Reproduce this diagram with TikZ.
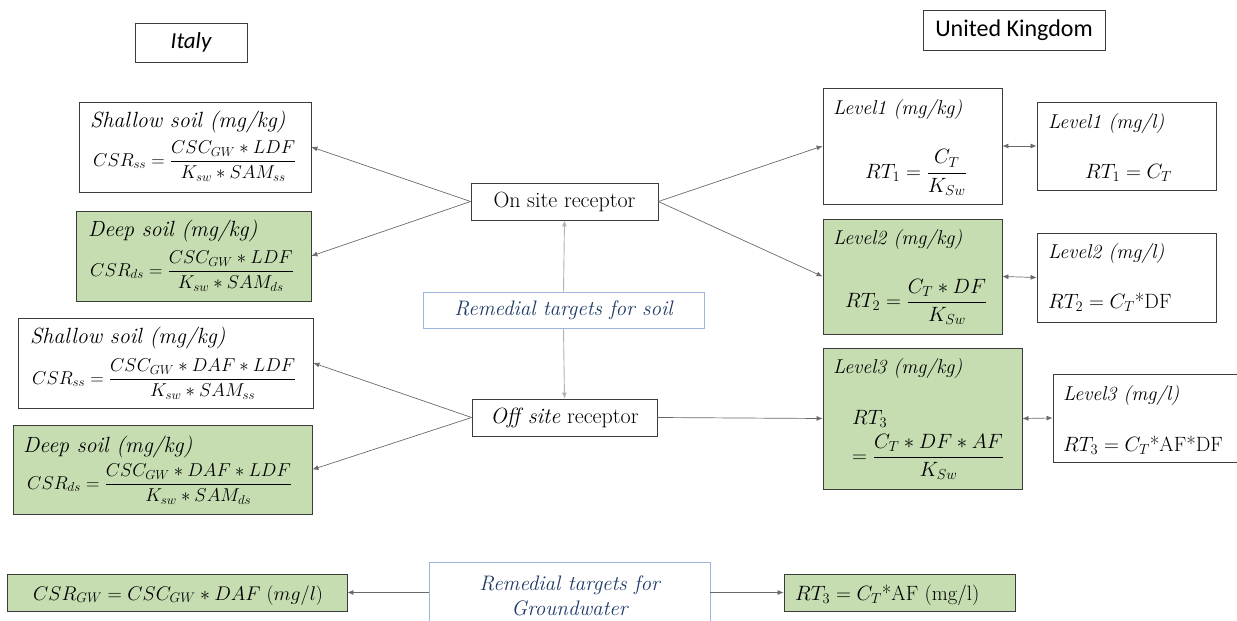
\documentclass[tikz,border=0pt]{standalone}
\usepackage{fontspec}
\newfontfamily\calibri{Carlito}
\usetikzlibrary{arrows.meta}
\DeclareFontShape{OML}{cmm}{m}{it}{<-6>cmmi5<6-7>cmmi6<7-8>cmmi7<8-9>cmmi8<9-10>cmmi9<10-12>cmmi10<12->cmmi12}{}
\DeclareFontShape{OMS}{cmsy}{m}{n}{<-6>cmsy5<6-7>cmsy6<7-8>cmsy7<8-9>cmsy8<9-10>cmsy9<10->cmsy10}{}
\DeclareFontShape{OT1}{cmr}{m}{n}{<-6>cmr5<6-7>cmr6<7-8>cmr7<8-9>cmr8<9-10>cmr9<10-12>cmr10<12-17>cmr12<17->cmr17}{}
\definecolor{boxgreen}{HTML}{C5DDB1}
\definecolor{boxline}{HTML}{3C3C3C}
\definecolor{linegray}{HTML}{6A6A6A}
\definecolor{lightblue}{HTML}{9DB7DC}
\definecolor{darkblue}{HTML}{1F3A68}
\begin{document}
\begin{tikzpicture}[x=1pt,y=-1pt,font=\fontsize{20.7}{24}\selectfont,
  box/.style={draw=boxline,line width=0.8pt,inner sep=0pt,fill=white},
  gbox/.style={box,fill=boxgreen},
  bbox/.style={draw=lightblue,line width=0.8pt,inner sep=0pt,fill=white,text=darkblue,font=\fontsize{21}{25}\selectfont\itshape},
  recbox/.style={box,font=\fontsize{22}{26}\selectfont},
  txt/.style={inner sep=0pt,anchor=base west},
  itf/.style={txt,font=\fontsize{18.6}{22}\selectfont},
  ttl/.style={txt,font=\fontsize{20}{24}\selectfont\itshape},
  ittl/.style={txt,font=\fontsize{22}{26}\selectfont\itshape},
  conn/.style={draw=linegray,line width=0.7pt,-{Latex[length=6pt,width=5pt]}},
  dbl/.style={draw=linegray,line width=0.7pt,{Latex[length=6pt,width=5pt]}-{Latex[length=6pt,width=5pt]}},
  vconn/.style={draw=gray!60,line width=0.9pt,-{Latex[length=6pt,width=5pt]}}
]
\useasboundingbox (0,0) rectangle (1237,621);

% headers
\node[box,minimum width=112pt,minimum height=39pt,font=\calibri\itshape\fontsize{23}{27}\selectfont] (italy) at (191,42.5) {Italy};
\node[box,minimum width=182pt,minimum height=40pt,font=\calibri\fontsize{24}{28}\selectfont] (uk) at (1014,30) {United Kingdom};

% Italy boxes
\node[box,minimum width=232pt,minimum height=90pt] (sh1) at (195,147) {};
\node[ittl] (sh1t) at (90,127) {Shallow soil (mg/kg)};
\node[itf] (sh1f) at (93,166) {$\displaystyle CSR_{ss}=\frac{CSC_{GW}\ast LDF}{K_{sw}\ast SAM_{ss}}$};

\node[gbox,minimum width=235pt,minimum height=90pt] (ds1) at (193.5,256) {};
\node[ittl] (ds1t) at (88,236) {Deep soil (mg/kg)};
\node[itf] (ds1f) at (90,276) {$\displaystyle CSR_{ds}=\frac{CSC_{GW}\ast LDF}{K_{sw}\ast SAM_{ds}}$};

\node[box,minimum width=295pt,minimum height=90pt] (sh2) at (165.5,363) {};
\node[ittl] (sh2t) at (30,343) {Shallow soil (mg/kg)};
\node[itf] (sh2f) at (32,384) {$\displaystyle CSR_{ss}=\frac{CSC_{GW}\ast DAF\ast LDF}{K_{sw}\ast SAM_{ss}}$};

\node[gbox,minimum width=299pt,minimum height=89pt] (ds2) at (162.5,469.5) {};
\node[ittl] (ds2t) at (23,452) {Deep soil (mg/kg)};
\node[itf] (ds2f) at (27,489) {$\displaystyle CSR_{ds}=\frac{CSC_{GW}\ast DAF\ast LDF}{K_{sw}\ast SAM_{ds}}$};

\node[gbox,minimum width=340pt,minimum height=37pt] (gw1) at (177,592.5) {};
\node[txt,font=\fontsize{19.8}{23}\selectfont] (gw1f) at (33,600) {$CSR_{GW}=CSC_{GW}\ast DAF\ (mg/l)$};

% centre
\node[recbox,minimum width=187pt,minimum height=37pt] (on) at (564.5,201.5) {On site receptor};
\node[bbox,minimum width=281pt,minimum height=36pt] (soil) at (563.5,310) {Remedial targets for soil};
\node[recbox,minimum width=185pt,minimum height=37pt] (off) at (564.5,417.5) {\textit{Off site} receptor};
\node[bbox,minimum width=281pt,minimum height=68pt,align=center] (rgw) at (569.5,596) {Remedial targets for\\Groundwater};

% UK boxes
\node[box,minimum width=179pt,minimum height=116pt] (l1kg) at (912.5,146) {};
\node[ttl] (l1kgt) at (833,114) {Level1 (mg/kg)};
\node[txt] (l1kgf) at (865,178) {$\displaystyle RT_1=\frac{C_T}{K_{Sw}}$};

\node[box,minimum width=179pt,minimum height=88pt] (l1l) at (1126.5,146) {};
\node[ttl] (l1lt) at (1048,128) {Level1 (mg/l)};
\node[txt] (l1lf) at (1085,178) {$RT_1=C_T$};

\node[gbox,minimum width=179pt,minimum height=115pt] (l2kg) at (912.5,276.5) {};
\node[ttl] (l2kgt) at (833,244) {Level2 (mg/kg)};
\node[txt] (l2kgf) at (845,307) {$\displaystyle RT_2=\frac{C_T\ast DF}{K_{Sw}}$};

\node[box,minimum width=179pt,minimum height=89pt] (l2l) at (1126.5,277.5) {};
\node[ttl] (l2lt) at (1048,258) {Level2 (mg/l)};
\node[txt] (l2lf) at (1048,308) {$RT_2=C_T\mbox{*DF}$};

\node[gbox,minimum width=199pt,minimum height=141pt] (l3kg) at (922.5,418.5) {};
\node[ttl] (l3kgt) at (833,373) {Level3 (mg/kg)};
\node[txt] (l3kga) at (852,424) {$RT_3$};
\node[txt] (l3kgf) at (852,462) {$\displaystyle =\frac{C_T\ast DF\ast AF}{K_{Sw}}$};

\node[box,minimum width=192pt,minimum height=88pt] (l3l) at (1149,418) {};
\node[ttl] (l3lt) at (1063,400) {Level3 (mg/l)};
\node[txt] (l3lf) at (1063,451) {$RT_3=C_T\mbox{*AF*DF}$};

\node[gbox,minimum width=231pt,minimum height=37pt] (rt3) at (899.5,592.5) {};
\node[txt] (rt3f) at (795,600) {$RT_3=C_T\mbox{*AF (mg/l)}$};

% connectors
\draw[conn] (on.west) -- (sh1.east);
\draw[conn] (on.west) -- (ds1.east);
\draw[conn] (off.west) -- (sh2.east);
\draw[conn] (off.west) -- (ds2.east);
\draw[conn] (on.east) -- (l1kg.west);
\draw[conn] (on.east) -- (l2kg.west);
\draw[conn] (off.east) -- (l3kg.west);
\draw[dbl] (l1kg.east) -- (l1l.west);
\draw[dbl] (l2kg.east) -- (l2l.west);
\draw[dbl] (l3kg.east) -- (l3l.west);
\draw[vconn] (soil.north) -- (on.south);
\draw[vconn] (soil.south) -- (off.north);
\draw[conn] (gw1.east -| rgw.west) -- (gw1.east);
\draw[conn] (rt3.west -| rgw.east) -- (rt3.west);
\end{tikzpicture}
\end{document}
